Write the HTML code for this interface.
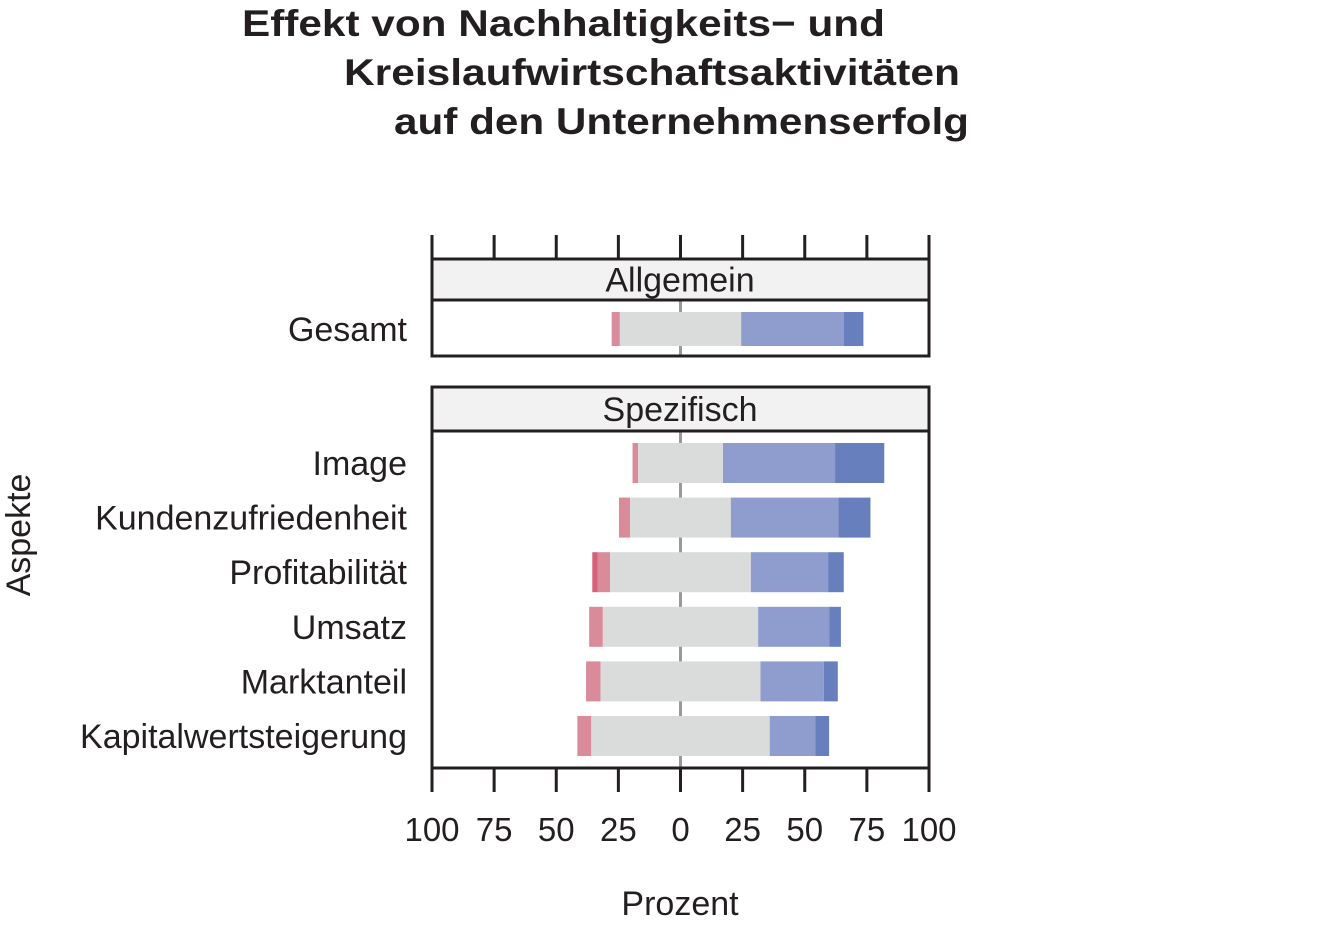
<!DOCTYPE html>
<html><head><meta charset="utf-8"><style>
body{margin:0;background:#fff}
svg{display:block;font-family:"Liberation Sans",sans-serif}
</style></head><body>
<svg id="chart" width="1323" height="926" viewBox="0 0 1323 926" xmlns="http://www.w3.org/2000/svg">
<g font-weight="bold" font-size="37" fill="#231f20" font-family="'Liberation Sans Narrow','Liberation Sans',sans-serif">
<text x="242" y="36" textLength="643" lengthAdjust="spacingAndGlyphs">Effekt von Nachhaltigkeits− und</text>
<text x="344" y="85" textLength="616" lengthAdjust="spacingAndGlyphs">Kreislaufwirtschaftsaktivitäten</text>
<text x="394" y="134" textLength="575" lengthAdjust="spacingAndGlyphs">auf den Unternehmenserfolg</text>
</g>
<g id="plot"></g>
<text x="0" y="0" font-size="34" fill="#231f20" text-anchor="middle" transform="translate(30,535) rotate(-90)">Aspekte</text>
<text x="680" y="915" font-size="34" fill="#231f20" text-anchor="middle">Prozent</text>
</svg>
<script>
const categories = ["Gesamt","Image","Kundenzufriedenheit","Profitabilität","Umsatz","Marktanteil","Kapitalwertsteigerung"];
const panels = ["Allgemein","Spezifisch","Spezifisch","Spezifisch","Spezifisch","Spezifisch","Spezifisch"];
const strongNeg = [0,0,0,2.1,0,0,0];
const neg = [3.3,2.2,4.5,5.1,5.5,5.8,5.6];
const neutral = [48.8,34.2,40.5,56.6,62.5,64.4,71.8];
const pos = [41.4,45.1,43.3,31.1,28.7,25.5,18.4];
const strongPos = [7.8,19.8,12.9,6.3,4.6,5.6,5.5];
const tickValues = [-100,-75,-50,-25,0,25,50,75,100];
const tickLabels = ["100","75","50","25","0","25","50","75","100"];

const NS="http://www.w3.org/2000/svg";
const g=document.getElementById('plot');
const X0=432,X1=929;
const x=v=>X0+(v+100)/200*(X1-X0);
const rowY=[329,463,517.6,572.2,626.8,681.4,736];
const barH=[34,40,40,40,40,40,40];
function el(t,a,p){const e=document.createElementNS(NS,t);for(const k in a)e.setAttribute(k,a[k]);(p||g).appendChild(e);return e;}

const pd=[{name:"Allgemein",top:259,strip:300,bot:356},{name:"Spezifisch",top:387,strip:431,bot:768}];
pd.forEach(p=>{
  const s=el('rect',{x:X0,y:p.top,width:X1-X0,height:p.strip-p.top,fill:'#f2f2f2',stroke:'#231f20','stroke-width':3});
  
  
  const t=el('text',{x:680,y:(p.top+p.strip)/2+12,'font-size':34,fill:'#231f20','text-anchor':'middle'});
  t.textContent=p.name;
  
  
  const cl=el('line',{x1:x(0),x2:x(0),y1:p.strip,y2:p.bot,stroke:'#999','stroke-width':3});
  
  
});

const colors=['#d6607a','#d98b99','#dadcdb','#8f9dce','#687fbd'];
const segNames=['strong-neg','neg','neutral','pos','strong-pos'];
categories.forEach((c,i)=>{
  const vals=[strongNeg[i],neg[i],neutral[i],pos[i],strongPos[i]];
  let start=-(strongNeg[i]+neg[i]+neutral[i]/2);
  const y=rowY[i]-barH[i]/2;
  vals.forEach((v,j)=>{
    if(v>0){
      const r=el('rect',{x:x(start),y:y,width:x(start+v)-x(start),height:barH[i],fill:colors[j]});
      
      
    }
    start+=v;
  });
  const t=el('text',{x:407,y:rowY[i]+12,'font-size':34,fill:'#231f20','text-anchor':'end'});
  t.textContent=c;
  
  
});
pd.forEach(p=>{
  const b=el('rect',{x:X0,y:p.strip,width:X1-X0,height:p.bot-p.strip,fill:'none',stroke:'#231f20','stroke-width':3});
  
  
});
tickValues.forEach((v,i)=>{
  const t1=el('line',{x1:x(v),x2:x(v),y1:235,y2:259,stroke:'#231f20','stroke-width':3});
  
  
  const t2=el('line',{x1:x(v),x2:x(v),y1:768,y2:792,stroke:'#231f20','stroke-width':3});
  
  
  const l=el('text',{x:x(v),y:841,'font-size':33,fill:'#231f20','text-anchor':'middle'});
  l.textContent=tickLabels[i];
  
  
});
</script>
</body></html>
